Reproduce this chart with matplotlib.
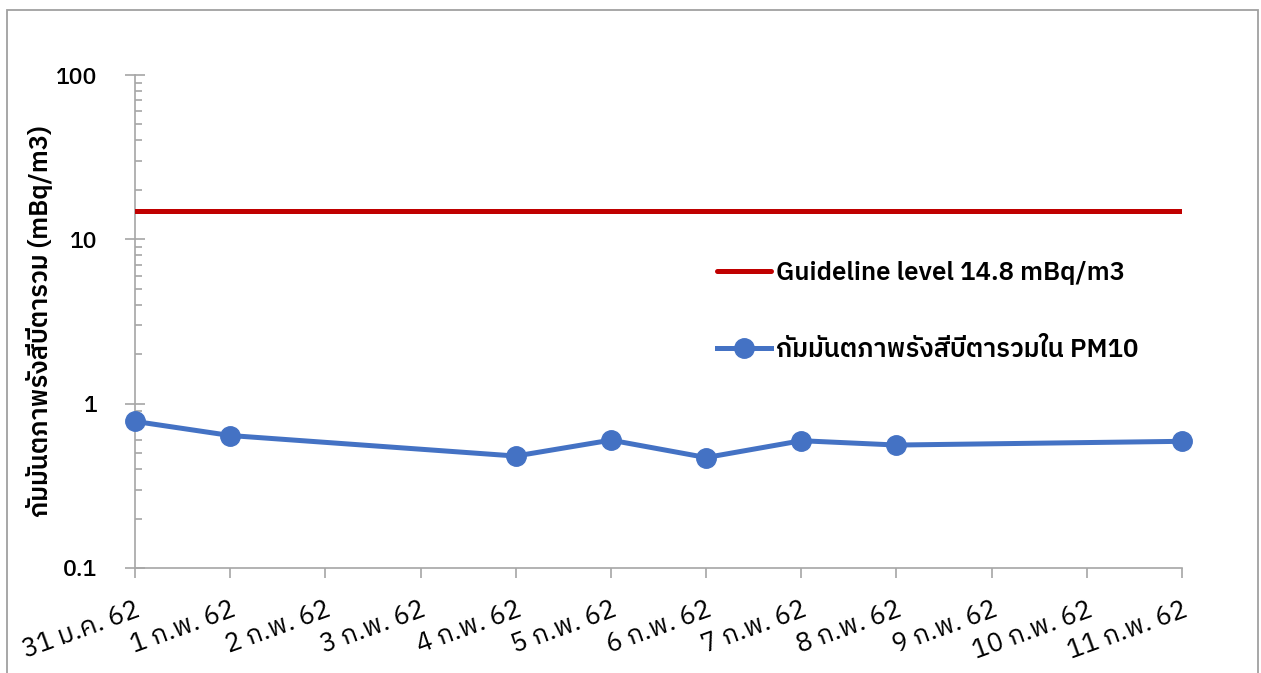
import matplotlib
matplotlib.use("Agg")
import matplotlib.pyplot as plt
from matplotlib.patches import Rectangle

# ---- data ----
date_labels = ['31 ม.ค. 62', '1 ก.พ. 62', '2 ก.พ. 62', '3 ก.พ. 62', '4 ก.พ. 62',
               '5 ก.พ. 62', '6 ก.พ. 62', '7 ก.พ. 62', '8 ก.พ. 62', '9 ก.พ. 62',
               '10 ก.พ. 62', '11 ก.พ. 62']
measured_idx = [0, 1, 4, 5, 6, 7, 8, 11]
beta_values = [0.78, 0.64, 0.48, 0.60, 0.47, 0.595, 0.56, 0.59]
guideline_value = 14.8
guideline_label = 'Guideline level 14.8 mBq/m3'
series_label = 'กัมมันตภาพรังสีบีตารวมใน PM10'
y_label = 'กัมมันตภาพรังสีบีตารวม (mBq/m3)'
y_ticks = [0.1, 1, 10, 100]
y_ticklabels = ['0.1', '1', '10', '100']

FONT = ['IBM Plex Sans Thai', 'Noto Sans Thai', 'DejaVu Sans']
plt.rcParams['font.family'] = FONT

W, H = 1261, 673
fig = plt.figure(figsize=(W / 100, H / 100), dpi=100)
ax = fig.add_axes([135 / W, 1 - 568 / H, (1182 - 135) / W, (568 - 75) / H])

x_all = list(range(len(date_labels)))
ax.plot(x_all, [guideline_value] * len(x_all), color='#C00000', lw=3.6,
        solid_capstyle='round', label=guideline_label, zorder=3)
ax.plot(measured_idx, beta_values, color='#4472C4', lw=3.6, marker='o',
        markersize=14, label=series_label, zorder=4, solid_joinstyle='round',
        clip_on=False)

ax.set_yscale('log')
ax.set_ylim(0.1, 100)
ax.set_xlim(0, len(date_labels) - 1)

ax.set_yticks(y_ticks)
ax.set_yticklabels(y_ticklabels, fontsize=16.5, fontweight='medium')
ax.set_xticks(x_all)
ax.set_xticklabels(date_labels, fontsize=19, rotation=20, ha='right',
                   va='top', rotation_mode='anchor')

gray = '#A6A6A6'
for s in ['top', 'right']:
    ax.spines[s].set_visible(False)
for s in ['left', 'bottom']:
    ax.spines[s].set_color(gray)
    ax.spines[s].set_linewidth(1.2)

ax.tick_params(axis='y', which='major', direction='inout', length=14, width=1.2,
               color=gray, pad=20)
ax.tick_params(axis='y', which='minor', direction='in', length=5, width=1.2,
               color=gray)
ax.tick_params(axis='x', which='major', direction='out', length=7, width=1.2,
               color=gray, pad=14)
ax.tick_params(axis='x', which='minor', bottom=False)

ax.set_ylabel(y_label, fontsize=18.5, fontweight='semibold')
ax.yaxis.set_label_coords(-0.078, 0.5)

leg = ax.legend(loc='upper left', bbox_to_anchor=(717 / W, 1 - 261 / H),
                bbox_transform=fig.transFigure, frameon=False,
                prop={'weight': 'semibold', 'size': 18.5, 'family': FONT},
                handlelength=2.1, handletextpad=0.2, labelspacing=2.05,
                borderpad=0, borderaxespad=0)

fig.patches.append(Rectangle((7 / W, -0.02), (1258 - 7) / W, 1 - 10 / H + 0.02,
                             transform=fig.transFigure, fill=False,
                             edgecolor='#A0A0A0', lw=1.3, zorder=0))

fig.savefig('out.png', dpi=100)
